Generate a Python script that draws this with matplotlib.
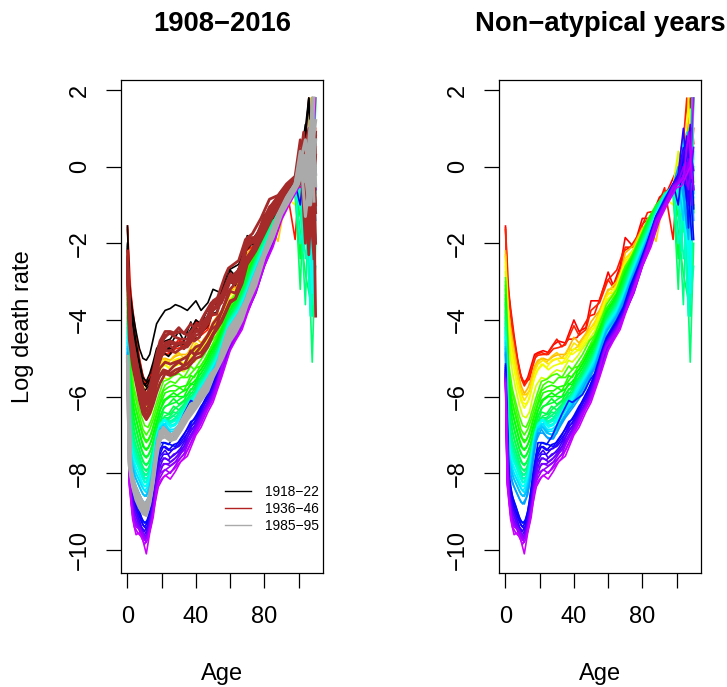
import matplotlib
matplotlib.use('Agg')
import matplotlib.pyplot as plt
from matplotlib.colors import hsv_to_rgb

plt.rcParams['font.family'] = ['Liberation Sans', 'DejaVu Sans']

W, H = 727, 687

ages = [0, 1, 3, 5, 7, 9, 11, 13, 15, 17, 19, 22, 25, 28, 31, 35, 40, 43, 47, 50, 55, 60, 63, 67, 70, 75, 80, 85, 90, 95, 100, 103, 106, 108, 110]
ages_b = [0, 2, 4, 6, 8, 10, 12, 14, 16, 18, 21, 24, 27, 30, 33, 37, 39, 42, 45, 49, 52, 57, 59, 65, 69, 73, 78, 83, 88, 93, 98, 101, 104, 107, 109]

# log death rates, one list per year
y1908 = [-1.55,-2.9,-3.7,-4.4,-5.0,-5.45,-5.65,-5.5,-5.2,-4.9,-4.85,-4.8,-4.85,-4.65,-4.55,-4.6,-4.0,-4.3,-4.2,-3.5,-3.5,-2.75,-3.1,-2.6,-1.85,-2.1,-1.35,-1.35,-0.8,-0.6,-0.1,0.3,0.9,1.79,0.6]
y1911 = [-1.65,-3.0,-3.8,-4.5,-5.05,-5.5,-5.72,-5.58,-5.3,-5.0,-4.92,-4.9,-4.9,-4.75,-4.72,-4.65,-4.15,-4.4,-4.25,-3.75,-3.55,-2.95,-3.15,-2.7,-2.1,-2.1,-1.5,-1.3,-0.9,-0.75,-0.3,0.1,1.79,-0.3,1.0]
y1924 = [-2.2,-3.5,-4.2,-4.75,-5.3,-5.7,-5.92,-5.78,-5.55,-5.2,-5.05,-5.0,-5.05,-4.95,-4.9,-4.9,-4.45,-4.6,-4.35,-4.05,-3.75,-3.2,-3.2,-2.85,-2.25,-2.05,-1.6,-1.4,-0.95,-0.8,-0.5,0.5,-0.5,1.2,-1.0]
y1928 = [-2.35,-3.7,-4.4,-4.95,-5.5,-5.9,-6.1,-5.95,-5.7,-5.35,-5.15,-5.05,-5.15,-5.05,-5.0,-5.0,-4.6,-4.7,-4.45,-4.2,-3.85,-3.3,-3.3,-2.9,-2.4,-2.15,-1.65,-1.35,-1.0,-0.75,-0.6,-0.2,0.7,-1.0,1.79]
y1932 = [-2.6,-4.0,-4.7,-5.2,-5.75,-6.1,-6.3,-6.15,-5.85,-5.5,-5.3,-5.15,-5.3,-5.2,-5.15,-5.1,-4.75,-4.8,-4.55,-4.3,-3.95,-3.45,-3.4,-3.0,-2.5,-2.2,-1.7,-1.35,-1.0,-0.8,-0.55,0.0,-0.4,1.5,0.2]
y1948 = [-3.0,-5.0,-5.7,-6.1,-6.5,-6.85,-7.0,-6.85,-6.6,-6.3,-6.0,-5.7,-5.6,-5.65,-5.5,-5.5,-5.25,-5.2,-4.9,-4.6,-4.2,-3.65,-3.55,-3.1,-2.6,-2.25,-1.8,-1.3,-1.0,-0.8,-0.6,-0.3,-1.5,0.8,-0.4]
y1951 = [-3.2,-5.3,-5.95,-6.35,-6.7,-7.05,-7.2,-7.05,-6.8,-6.5,-6.2,-5.9,-5.85,-5.85,-5.75,-5.7,-5.4,-5.3,-5.0,-4.7,-4.25,-3.75,-3.6,-3.2,-2.7,-2.3,-1.85,-1.35,-1.0,-0.8,-0.6,-0.1,0.4,-1.6,1.79]
y1954 = [-3.45,-5.6,-6.2,-6.6,-6.95,-7.3,-7.4,-7.25,-7.0,-6.7,-6.35,-6.1,-6.0,-6.0,-5.9,-5.8,-5.55,-5.4,-5.1,-4.8,-4.35,-3.85,-3.7,-3.25,-2.8,-2.35,-1.9,-1.4,-0.95,-0.75,-0.5,-0.6,-2.0,0.3,-1.2]
y1957 = [-3.6,-5.8,-6.45,-6.85,-7.2,-7.5,-7.6,-7.45,-7.2,-6.85,-6.5,-6.25,-6.2,-6.15,-6.05,-5.95,-5.65,-5.5,-5.2,-4.9,-4.4,-3.9,-3.75,-3.35,-2.85,-2.4,-1.9,-1.4,-0.95,-0.7,-0.4,-1.0,0.6,-2.6,0.0]
y1960 = [-3.8,-6.0,-6.7,-7.1,-7.4,-7.7,-7.8,-7.65,-7.35,-7.0,-6.65,-6.5,-6.45,-6.3,-6.2,-6.05,-5.75,-5.6,-5.3,-5.0,-4.5,-3.95,-3.8,-3.4,-2.95,-2.45,-1.95,-1.45,-1.0,-0.7,-0.5,-1.9,0.2,-3.0,-1.0]
y1963 = [-3.95,-6.3,-6.95,-7.3,-7.55,-7.85,-7.95,-7.8,-7.45,-7.05,-6.7,-6.6,-6.55,-6.45,-6.3,-6.1,-5.85,-5.65,-5.35,-5.05,-4.55,-4.0,-3.85,-3.45,-3.05,-2.45,-1.95,-1.45,-1.0,-0.65,-0.5,-0.6,-2.5,-5.1,-2.0]
y1966 = [-4.1,-6.5,-7.1,-7.45,-7.7,-7.95,-8.05,-7.9,-7.5,-7.05,-6.7,-6.6,-6.65,-6.55,-6.35,-6.15,-5.9,-5.7,-5.4,-5.1,-4.6,-4.05,-3.9,-3.5,-3.1,-2.5,-2.0,-1.5,-1.05,-0.7,-0.6,-1.6,-0.2,-3.9,-0.5]
y1969 = [-4.2,-6.7,-7.25,-7.6,-7.8,-8.05,-8.15,-8.0,-7.55,-7.0,-6.7,-6.6,-6.7,-6.6,-6.4,-6.2,-5.9,-5.75,-5.45,-5.15,-4.65,-4.05,-3.9,-3.55,-3.15,-2.6,-2.05,-1.55,-1.05,-0.7,-0.5,-2.2,0.9,-3.6,-2.6]
y1972 = [-4.35,-6.85,-7.4,-7.7,-7.9,-8.15,-8.25,-8.1,-7.6,-7.0,-6.7,-6.6,-6.75,-6.7,-6.5,-6.25,-5.95,-5.8,-5.5,-5.2,-4.7,-4.1,-3.95,-3.6,-3.2,-2.65,-2.1,-1.6,-1.1,-0.75,-0.45,-1.2,0.1,-2.9,1.79]
y1975 = [-4.45,-7.0,-7.55,-7.85,-8.05,-8.3,-8.35,-8.2,-7.7,-7.05,-6.75,-6.6,-6.8,-6.75,-6.55,-6.3,-6.0,-5.85,-5.55,-5.25,-4.8,-4.15,-4.0,-3.65,-3.25,-2.75,-2.15,-1.6,-1.15,-0.75,-0.5,-0.8,-1.9,-3.3,0.4]
y1978 = [-4.6,-7.2,-7.7,-8.0,-8.2,-8.4,-8.5,-8.3,-7.8,-7.1,-6.8,-6.7,-6.9,-6.9,-6.65,-6.35,-6.1,-5.9,-5.6,-5.3,-4.85,-4.25,-4.05,-3.7,-3.3,-2.8,-2.2,-1.7,-1.2,-0.75,-0.45,-0.3,0.6,-1.3,-0.8]
y1981 = [-4.75,-7.4,-7.85,-8.15,-8.35,-8.55,-8.6,-8.4,-7.9,-7.2,-6.85,-6.8,-6.95,-7.0,-6.75,-6.5,-6.15,-6.0,-5.7,-5.4,-4.9,-4.35,-4.1,-3.75,-3.35,-2.85,-2.25,-1.75,-1.2,-0.8,-0.45,-0.1,-1.1,1.0,-0.7]
y1984 = [-4.9,-7.6,-8.05,-8.35,-8.55,-8.75,-8.8,-8.55,-8.05,-7.35,-6.95,-6.95,-7.1,-7.1,-6.85,-6.55,-6.25,-6.05,-5.8,-5.45,-5.0,-4.4,-4.2,-3.8,-3.45,-2.95,-2.3,-1.8,-1.25,-0.8,-0.5,0.1,-1.6,0.5,-1.4]
y1997 = [-5.2,-7.8,-8.4,-8.75,-9.0,-9.25,-9.3,-9.0,-8.4,-7.75,-7.2,-7.2,-7.25,-7.3,-7.1,-6.85,-6.5,-6.25,-6.0,-5.65,-5.15,-4.6,-4.4,-4.05,-3.65,-3.0,-2.4,-1.85,-1.25,-0.85,-0.45,0.2,-0.9,0.9,-1.1]
y2000 = [-5.3,-7.95,-8.55,-8.9,-9.1,-9.35,-9.45,-9.1,-8.5,-7.85,-7.35,-7.3,-7.4,-7.35,-7.2,-6.95,-6.6,-6.35,-6.05,-5.7,-5.2,-4.65,-4.45,-4.1,-3.7,-3.1,-2.45,-1.9,-1.25,-0.85,-0.45,0.0,0.8,-0.5,-1.9]
y2003 = [-5.4,-8.05,-8.7,-9.0,-9.25,-9.5,-9.55,-9.2,-8.7,-8.0,-7.55,-7.4,-7.6,-7.5,-7.35,-7.05,-6.7,-6.45,-6.15,-5.8,-5.25,-4.7,-4.5,-4.15,-3.75,-3.15,-2.5,-1.9,-1.2,-0.8,-0.35,-0.2,0.2,1.1,-0.6]
y2006 = [-5.45,-8.15,-8.85,-9.1,-9.35,-9.6,-9.65,-9.3,-8.8,-8.15,-7.7,-7.6,-7.7,-7.6,-7.45,-7.15,-6.8,-6.55,-6.2,-5.9,-5.3,-4.75,-4.5,-4.15,-3.8,-3.25,-2.55,-1.95,-1.3,-0.85,-0.4,-0.3,-0.5,0.4,-0.1]
y2009 = [-5.5,-8.2,-8.95,-9.25,-9.4,-9.55,-9.7,-9.4,-8.9,-8.25,-7.85,-7.75,-7.8,-7.7,-7.5,-7.25,-6.85,-6.6,-6.25,-5.95,-5.4,-4.75,-4.5,-4.15,-3.8,-3.3,-2.6,-2.0,-1.35,-0.85,-0.45,-0.4,0.1,-0.3,0.5]
y2012 = [-5.55,-8.25,-9.1,-9.4,-9.45,-9.6,-9.8,-9.5,-9.0,-8.35,-8.0,-7.9,-8.0,-7.8,-7.6,-7.4,-6.95,-6.7,-6.3,-6.05,-5.45,-4.75,-4.5,-4.15,-3.8,-3.3,-2.6,-2.05,-1.35,-0.9,-0.5,-0.3,-0.1,0.2,-0.6]
y2016 = [-5.65,-8.3,-9.2,-9.6,-9.55,-9.75,-10.1,-9.55,-9.15,-8.45,-8.2,-8.05,-8.15,-7.95,-7.7,-7.55,-7.0,-6.8,-6.4,-6.15,-5.5,-4.8,-4.55,-4.25,-3.85,-3.25,-2.6,-2.1,-1.4,-0.95,-0.55,-0.5,-0.2,0.0,1.79]

# these ones are read at ages_b
y1910 = [-1.6,-3.4,-4.3,-4.85,-5.3,-5.6,-5.6,-5.55,-5.2,-4.9,-4.85,-4.9,-4.7,-4.5,-4.7,-4.5,-4.5,-4.45,-4.2,-3.9,-3.85,-3.2,-3.0,-2.7,-2.2,-2.1,-1.75,-1.2,-1.15,-0.55,-1.9,0.0,0.8,-1.85,1.79]
y1926 = [-2.3,-4.0,-4.8,-5.25,-5.65,-5.95,-5.95,-5.85,-5.45,-5.15,-5.0,-5.1,-4.95,-4.85,-5.0,-4.75,-4.8,-4.7,-4.5,-4.25,-4.1,-3.55,-3.3,-3.0,-2.55,-2.3,-1.85,-1.45,-1.95,-0.75,-0.55,-0.1,0.5,-0.6,-1.3]
y1930 = [-2.5,-4.3,-5.05,-5.5,-5.85,-6.15,-6.2,-6.05,-5.65,-5.35,-5.15,-5.25,-5.05,-5.0,-5.15,-4.85,-4.9,-4.8,-4.6,-4.35,-4.2,-3.65,-3.4,-3.1,-2.6,-2.35,-1.9,-1.4,-1.05,-0.8,-1.0,0.3,-0.6,1.79,-0.9]
y1934 = [-2.75,-4.65,-5.35,-5.8,-6.2,-6.5,-6.55,-6.4,-6.0,-5.7,-5.5,-5.55,-5.4,-5.3,-5.35,-5.05,-5.1,-4.95,-4.75,-4.5,-4.3,-3.8,-3.5,-3.2,-2.7,-2.4,-1.95,-1.5,-1.05,-0.75,-0.5,0.4,-1.1,0.7,1.0]
y1947 = [-2.9,-5.2,-5.8,-6.15,-6.5,-6.75,-6.8,-6.6,-6.3,-6.0,-5.6,-5.55,-5.45,-5.4,-5.5,-5.2,-5.3,-5.1,-4.9,-4.55,-4.4,-3.85,-3.6,-3.2,-2.7,-2.4,-1.9,-1.4,-1.05,-0.8,-0.65,-0.3,-1.7,1.0,-0.2]
y1950 = [-3.1,-5.5,-6.15,-6.5,-6.85,-7.1,-7.15,-6.95,-6.6,-6.3,-5.85,-5.75,-5.7,-5.75,-5.85,-5.45,-5.5,-5.25,-5.05,-4.7,-4.55,-3.95,-3.7,-3.3,-2.8,-2.45,-1.95,-1.4,-1.0,-0.75,-0.6,-0.6,0.5,-1.9,0.9]
y1953 = [-3.35,-5.8,-6.4,-6.75,-7.1,-7.35,-7.35,-7.15,-6.8,-6.5,-6.1,-6.0,-5.9,-6.0,-6.0,-5.65,-5.7,-5.35,-5.15,-4.8,-4.6,-4.05,-3.8,-3.35,-2.9,-2.5,-2.0,-1.45,-1.05,-0.75,-0.65,-1.3,-0.5,-2.3,0.2]
y1956 = [-3.55,-6.05,-6.65,-7.0,-7.35,-7.55,-7.55,-7.35,-7.0,-6.65,-6.3,-6.2,-6.05,-6.2,-6.1,-5.8,-5.8,-5.45,-5.25,-4.9,-4.7,-4.1,-3.85,-3.4,-2.95,-2.55,-2.0,-1.5,-1.05,-0.7,-0.75,-2.4,0.3,-1.9,-0.9]
y1959 = [-3.75,-6.35,-6.9,-7.25,-7.55,-7.75,-7.75,-7.55,-7.15,-6.8,-6.4,-6.45,-6.25,-6.35,-6.2,-5.9,-5.9,-5.55,-5.35,-5.0,-4.8,-4.2,-3.9,-3.5,-3.05,-2.6,-2.05,-1.55,-1.05,-0.7,-0.5,-1.7,-2.8,-3.5,0.3]
y1962 = [-3.9,-6.6,-7.15,-7.45,-7.75,-7.9,-7.9,-7.65,-7.2,-6.85,-6.55,-6.55,-6.4,-6.45,-6.25,-6.0,-5.95,-5.6,-5.4,-5.1,-4.85,-4.25,-4.0,-3.55,-3.15,-2.65,-2.1,-1.6,-1.1,-0.7,-0.55,-3.2,0.5,-3.9,-1.6]
y1965 = [-4.05,-6.8,-7.3,-7.6,-7.85,-8.05,-8.0,-7.7,-7.25,-6.85,-6.6,-6.6,-6.5,-6.55,-6.3,-6.05,-6.0,-5.65,-5.5,-5.15,-4.9,-4.3,-4.05,-3.6,-3.2,-2.7,-2.15,-1.65,-1.15,-0.7,-0.6,-1.0,-3.6,0.6,-2.9]
y1968 = [-4.2,-7.0,-7.45,-7.7,-7.95,-8.15,-8.1,-7.75,-7.25,-6.85,-6.6,-6.65,-6.6,-6.55,-6.35,-6.05,-6.0,-5.7,-5.5,-5.2,-4.95,-4.3,-4.05,-3.65,-3.25,-2.75,-2.2,-1.7,-1.2,-0.75,-0.65,-0.2,-2.4,-1.5,-3.2]
y1971 = [-4.3,-7.1,-7.6,-7.8,-8.05,-8.25,-8.15,-7.8,-7.25,-6.85,-6.6,-6.7,-6.65,-6.6,-6.4,-6.1,-6.05,-5.75,-5.55,-5.25,-5.0,-4.35,-4.1,-3.7,-3.3,-2.8,-2.25,-1.75,-1.2,-0.75,-0.55,-2.0,-1.1,-3.9,0.9]
y1974 = [-4.45,-7.3,-7.75,-7.95,-8.2,-8.35,-8.25,-7.9,-7.35,-6.9,-6.6,-6.75,-6.75,-6.65,-6.45,-6.15,-6.1,-5.8,-5.6,-5.3,-5.05,-4.4,-4.15,-3.75,-3.35,-2.85,-2.3,-1.8,-1.25,-0.75,-0.5,-1.1,-0.3,-2.3,-0.7]
y1977 = [-4.55,-7.45,-7.9,-8.1,-8.3,-8.45,-8.35,-8.05,-7.45,-6.95,-6.7,-6.85,-6.85,-6.75,-6.5,-6.2,-6.15,-5.85,-5.65,-5.35,-5.1,-4.45,-4.2,-3.8,-3.4,-2.9,-2.35,-1.8,-1.25,-0.8,-0.45,-0.6,0.7,-1.8,0.1]
y1980 = [-4.7,-7.6,-8.05,-8.25,-8.45,-8.6,-8.5,-8.15,-7.55,-7.05,-6.75,-6.95,-7.0,-6.85,-6.6,-6.3,-6.2,-5.95,-5.7,-5.4,-5.2,-4.5,-4.25,-3.85,-3.45,-2.95,-2.4,-1.85,-1.3,-0.8,-0.45,-0.4,-1.4,0.9,-1.2]
y1983 = [-4.85,-7.8,-8.25,-8.45,-8.65,-8.8,-8.65,-8.3,-7.7,-7.15,-6.85,-7.05,-7.1,-6.95,-6.65,-6.35,-6.25,-6.0,-5.8,-5.45,-5.25,-4.55,-4.3,-3.9,-3.5,-3.0,-2.45,-1.9,-1.3,-0.85,-0.5,0.0,-0.8,-1.9,1.79]
y1996 = [-5.15,-8.0,-8.6,-8.85,-9.15,-9.3,-9.2,-8.75,-8.05,-7.5,-7.2,-7.25,-7.05,-6.75,-6.45,-6.1,-6.15,-6.05,-5.95,-5.6,-5.4,-4.7,-4.45,-4.0,-3.65,-3.1,-2.55,-1.95,-1.3,-0.85,-0.45,-0.2,0.5,-1.6,1.0]
y1999 = [-5.25,-8.15,-8.7,-9.0,-9.25,-9.4,-9.25,-8.85,-8.2,-7.6,-7.3,-7.4,-7.25,-7.2,-7.0,-6.65,-6.6,-6.4,-6.1,-5.75,-5.45,-4.75,-4.5,-4.05,-3.7,-3.15,-2.6,-2.0,-1.3,-0.9,-0.45,-1.0,0.3,-0.7,-1.9]
y2002 = [-5.35,-8.3,-8.85,-9.1,-9.4,-9.5,-9.4,-9.0,-8.35,-7.75,-7.5,-7.5,-7.35,-7.3,-7.15,-6.75,-6.7,-6.5,-6.2,-5.85,-5.55,-4.8,-4.55,-4.1,-3.75,-3.2,-2.65,-2.0,-1.3,-0.9,-0.45,-0.2,1.0,-1.0,0.2]
y2005 = [-5.4,-8.4,-9.0,-9.25,-9.5,-9.6,-9.5,-9.1,-8.5,-7.95,-7.6,-7.65,-7.5,-7.45,-7.3,-6.85,-6.8,-6.55,-6.3,-5.95,-5.6,-4.85,-4.6,-4.15,-3.8,-3.3,-2.7,-2.05,-1.35,-0.95,-0.5,-0.3,0.4,0.6,-0.4]
y2008 = [-5.5,-8.5,-9.15,-9.35,-9.55,-9.7,-9.55,-9.15,-8.6,-8.1,-7.75,-7.75,-7.65,-7.5,-7.4,-7.0,-6.85,-6.6,-6.35,-6.0,-5.65,-4.85,-4.6,-4.2,-3.85,-3.35,-2.7,-2.1,-1.4,-0.95,-0.5,-0.35,-0.3,0.2,-1.0]
y2011 = [-5.55,-8.6,-9.25,-9.4,-9.6,-9.75,-9.6,-9.2,-8.7,-8.2,-7.95,-7.85,-7.75,-7.65,-7.5,-7.05,-6.95,-6.7,-6.4,-6.1,-5.7,-4.9,-4.65,-4.25,-3.9,-3.4,-2.75,-2.1,-1.4,-1.0,-0.5,-0.4,0.0,-0.6,0.4]
y2014 = [-5.6,-8.7,-9.4,-9.55,-9.65,-9.85,-9.7,-9.3,-8.8,-8.35,-8.1,-8.0,-7.9,-7.75,-7.6,-7.2,-7.0,-6.75,-6.45,-6.15,-5.8,-4.95,-4.7,-4.3,-3.9,-3.4,-2.8,-2.15,-1.45,-1.0,-0.55,-0.45,-0.3,0.9,-0.3]

# atypical years, left panel only
y1918 = [-1.55,-3.1,-3.8,-4.3,-4.75,-5.0,-5.05,-4.9,-4.5,-4.1,-3.95,-3.75,-3.7,-3.6,-3.65,-3.75,-3.5,-3.75,-3.55,-3.2,-3.3,-2.7,-2.85,-2.45,-1.8,-1.95,-1.25,-1.2,-0.8,-0.5,-0.1,0.6,1.79,0.5,-0.5]
y1919 = [-2.0,-3.2,-4.0,-4.6,-5.1,-5.5,-5.6,-5.4,-5.1,-4.75,-4.6,-4.55,-4.5,-4.3,-4.3,-4.4,-4.0,-4.1,-3.9,-3.5,-3.45,-2.9,-3.05,-2.6,-2.0,-2.05,-1.45,-1.35,-0.9,-0.6,-0.3,0.2,1.79,-1.0,0.6]
y1921 = [-2.1,-3.4,-4.1,-4.7,-5.2,-5.6,-5.75,-5.6,-5.35,-5.0,-4.85,-4.8,-4.75,-4.7,-4.65,-4.6,-4.2,-4.35,-4.15,-3.75,-3.55,-3.0,-3.1,-2.7,-2.05,-2.0,-1.5,-1.3,-0.9,-0.7,-0.4,0.4,-0.6,0.9,-0.2]
y1920 = [-2.05,-3.9,-4.65,-5.2,-5.55,-5.7,-5.6,-5.5,-5.0,-4.75,-4.65,-4.75,-4.5,-4.3,-4.55,-4.05,-4.3,-4.3,-3.9,-3.55,-3.6,-2.95,-2.7,-2.55,-2.1,-1.9,-1.6,-1.15,-1.1,-0.5,-0.35,0.1,1.1,-0.4,1.79]
y1922 = [-2.15,-4.0,-4.8,-5.3,-5.65,-5.85,-5.75,-5.65,-5.25,-4.95,-4.85,-4.95,-4.75,-4.6,-4.75,-4.35,-4.5,-4.45,-4.2,-3.85,-3.8,-3.2,-2.95,-2.7,-2.2,-2.0,-1.7,-1.25,-1.15,-0.7,-0.4,0.3,-0.5,0.8,-0.7]

y1936 = [-2.7,-4.1,-4.9,-5.4,-5.95,-6.3,-6.5,-6.35,-6.0,-5.65,-5.45,-5.35,-5.4,-5.3,-5.25,-5.15,-4.9,-4.85,-4.6,-4.35,-4.0,-3.5,-3.45,-3.05,-2.55,-2.2,-1.75,-1.3,-1.0,-0.7,-0.5,0.2,-1.2,0.9,-1.0]
y1938 = [-2.6,-4.0,-4.75,-5.3,-5.8,-6.15,-6.35,-6.2,-5.85,-5.5,-5.25,-5.1,-5.15,-5.1,-5.05,-4.95,-4.7,-4.65,-4.4,-4.1,-3.8,-3.25,-3.3,-2.85,-2.35,-2.1,-1.6,-1.2,-0.9,-0.6,-0.4,0.1,-2.3,-0.3,0.8]
y1940 = [-2.5,-3.9,-4.6,-5.1,-5.5,-5.85,-6.05,-5.8,-5.4,-5.0,-4.7,-4.4,-4.35,-4.45,-4.5,-4.5,-4.1,-4.2,-3.9,-3.5,-3.35,-2.8,-2.9,-2.45,-1.85,-1.85,-1.3,-0.95,-0.65,-0.4,-0.2,0.6,-0.6,1.4,-2.0]
y1941 = [-2.4,-3.95,-4.65,-5.2,-5.6,-5.95,-6.15,-5.9,-5.55,-5.15,-4.9,-4.65,-4.6,-4.65,-4.6,-4.6,-4.25,-4.25,-4.0,-3.6,-3.45,-2.9,-2.95,-2.55,-1.95,-1.9,-1.35,-1.0,-0.75,-0.45,-0.25,0.5,0.0,-1.5,0.9]
y1942 = [-2.5,-4.0,-4.7,-5.2,-5.65,-6.0,-6.2,-6.0,-5.65,-5.3,-5.0,-4.8,-4.8,-4.85,-4.75,-4.7,-4.4,-4.35,-4.1,-3.75,-3.55,-3.0,-3.05,-2.6,-2.0,-1.95,-1.4,-1.0,-0.7,-0.45,-0.3,0.3,1.0,-0.8,0.3]
y1944 = [-2.35,-3.85,-4.5,-5.0,-5.45,-5.8,-5.95,-5.75,-5.35,-4.9,-4.55,-4.3,-4.3,-4.35,-4.3,-4.4,-4.15,-4.1,-3.9,-3.55,-3.4,-2.85,-2.9,-2.5,-1.95,-1.9,-1.45,-1.05,-0.7,-0.45,-0.15,0.4,-1.8,0.2,-1.2]
y1945 = [-2.2,-3.9,-4.6,-5.15,-5.6,-6.0,-6.15,-5.95,-5.6,-5.2,-4.85,-4.6,-4.55,-4.6,-4.6,-4.6,-4.3,-4.3,-4.05,-3.7,-3.5,-2.95,-3.0,-2.6,-2.05,-1.95,-1.5,-1.1,-0.8,-0.5,-0.2,0.9,-0.9,1.79,-3.9]
y1946 = [-2.8,-4.5,-5.2,-5.65,-6.1,-6.45,-6.6,-6.45,-6.2,-5.9,-5.65,-5.4,-5.45,-5.4,-5.3,-5.25,-5.0,-4.95,-4.7,-4.4,-4.05,-3.55,-3.45,-3.0,-2.45,-2.15,-1.7,-1.2,-0.95,-0.7,-0.4,-0.1,-0.7,-1.8,0.5]
y1937 = [-2.65,-4.5,-5.2,-5.65,-6.05,-6.35,-6.4,-6.25,-5.85,-5.5,-5.3,-5.35,-5.2,-5.1,-5.2,-4.8,-4.9,-4.75,-4.55,-4.25,-4.15,-3.55,-3.25,-2.95,-2.45,-2.15,-1.75,-1.25,-1.1,-0.65,-0.55,0.0,-1.4,0.5,-0.6]
y1939 = [-2.5,-4.4,-5.05,-5.5,-5.9,-6.2,-6.2,-6.0,-5.55,-5.2,-4.8,-4.65,-4.75,-4.6,-4.75,-4.4,-4.55,-4.45,-4.15,-3.85,-3.85,-3.2,-2.95,-2.7,-2.15,-1.95,-1.6,-1.05,-0.85,-0.55,-0.35,0.45,-2.0,1.0,-1.5]
y1943 = [-2.4,-4.3,-4.95,-5.4,-5.8,-6.1,-6.05,-5.85,-5.35,-5.0,-4.5,-4.35,-4.35,-4.2,-4.35,-4.1,-4.2,-4.1,-3.85,-3.55,-3.5,-2.85,-2.65,-2.45,-1.9,-1.75,-1.35,-0.85,-0.75,-0.45,-0.25,0.7,0.2,-1.1,-2.4]

y1985 = [-4.95,-7.65,-8.1,-8.4,-8.6,-8.75,-8.8,-8.6,-8.1,-7.4,-7.0,-6.95,-7.1,-7.1,-6.85,-6.55,-6.2,-6.05,-5.75,-5.45,-5.0,-4.4,-4.2,-3.85,-3.45,-2.95,-2.3,-1.8,-1.2,-0.8,-0.4,0.2,-1.0,0.9,-0.2]
y1988 = [-5.0,-7.7,-8.2,-8.5,-8.65,-8.85,-8.9,-8.65,-8.15,-7.35,-6.9,-6.85,-7.0,-7.0,-6.8,-6.5,-6.2,-6.0,-5.75,-5.45,-4.95,-4.45,-4.25,-3.9,-3.5,-2.95,-2.3,-1.8,-1.2,-0.75,-0.35,0.3,-0.2,1.79,-0.5]
y1991 = [-5.05,-7.75,-8.3,-8.6,-8.75,-8.95,-9.0,-8.75,-8.2,-7.45,-7.0,-6.95,-7.0,-6.95,-6.7,-6.45,-6.15,-5.95,-5.75,-5.45,-5.0,-4.5,-4.3,-3.95,-3.55,-3.05,-2.35,-1.85,-1.2,-0.8,-0.4,0.0,0.6,-0.6,0.7]
y1995 = [-5.1,-7.8,-8.35,-8.7,-8.9,-9.05,-9.1,-8.8,-8.25,-7.6,-7.1,-7.05,-7.15,-7.1,-6.9,-6.6,-6.3,-6.1,-5.85,-5.5,-5.05,-4.55,-4.35,-4.0,-3.6,-3.1,-2.35,-1.85,-1.25,-0.85,-0.45,0.1,-0.7,0.4,1.2]
y1986 = [-4.95,-7.9,-8.3,-8.5,-8.7,-8.85,-8.7,-8.3,-7.65,-7.1,-6.85,-7.05,-7.1,-6.9,-6.6,-6.3,-6.2,-5.95,-5.75,-5.4,-5.25,-4.5,-4.25,-3.85,-3.5,-3.0,-2.45,-1.85,-1.25,-0.8,-0.45,0.4,-1.3,-0.2,1.79]
y1989 = [-5.0,-8.0,-8.4,-8.6,-8.8,-8.95,-8.8,-8.4,-7.65,-7.1,-6.8,-7.0,-7.0,-6.8,-6.55,-6.2,-6.15,-5.9,-5.7,-5.4,-5.25,-4.55,-4.3,-3.9,-3.55,-3.05,-2.45,-1.85,-1.25,-0.8,-0.45,0.1,0.7,-1.0,0.0]
y1993 = [-5.1,-8.05,-8.5,-8.75,-8.95,-9.05,-8.95,-8.5,-7.8,-7.25,-6.95,-7.05,-6.95,-6.75,-6.5,-6.2,-6.2,-6.0,-5.8,-5.45,-5.3,-4.6,-4.35,-3.95,-3.6,-3.1,-2.5,-1.9,-1.3,-0.85,-0.45,0.2,-0.4,1.2,-0.9]

years_a = [1908, 1911, 1924, 1928, 1932, 1948, 1951, 1954, 1957, 1960, 1963, 1966, 1969, 1972, 1975, 1978, 1981, 1984, 1997, 2000, 2003, 2006, 2009, 2012, 2016]
rows_a = [y1908, y1911, y1924, y1928, y1932, y1948, y1951, y1954, y1957, y1960, y1963, y1966, y1969, y1972, y1975, y1978, y1981, y1984, y1997, y2000, y2003, y2006, y2009, y2012, y2016]
years_b = [1910, 1926, 1930, 1934, 1947, 1950, 1953, 1956, 1959, 1962, 1965, 1968, 1971, 1974, 1977, 1980, 1983, 1996, 1999, 2002, 2005, 2008, 2011, 2014]
rows_b = [y1910, y1926, y1930, y1934, y1947, y1950, y1953, y1956, y1959, y1962, y1965, y1968, y1971, y1974, y1977, y1980, y1983, y1996, y1999, y2002, y2005, y2008, y2011, y2014]

war1_a = [y1921, y1919, y1918]
war1_b = [y1920, y1922]
war2_a = [y1936, y1938, y1940, y1941, y1942, y1944, y1945, y1946]
war2_b = [y1937, y1939, y1943]
late_a = [y1985, y1988, y1991, y1995]
late_b = [y1986, y1989, y1993]

legend_labels = ['1918\u221222', '1936\u221246', '1985\u221295']
legend_colors = ['black', '#b22222', '#aaaaaa']
xticks = [0, 20, 40, 60, 80, 100]
xticklabels = ['0', '', '40', '', '80', '']
yticks = [-10, -8, -6, -4, -2, 0, 2]
yticklabels = ['\u221210', '\u22128', '\u22126', '\u22124', '\u22122', '0', '2']


def year_colour(year):
    # red in 1908 round to purple in 2016
    return hsv_to_rgb((0.8 * (year - 1908) / 108, 1, 1))


def make_axes(fig, left_px, title):
    ax = fig.add_axes([left_px / W, 1 - 573 / H, 202 / W, 493 / H])
    ax.set_xlim(-3.8, 114.3)
    ax.set_ylim(-10.6, 2.26)
    ax.set_xticks(xticks)
    ax.set_xticklabels(xticklabels)
    ax.set_yticks(yticks)
    ax.set_yticklabels(yticklabels, rotation=90, va='center')
    ax.tick_params(axis='x', length=10.5, width=0.9, labelsize=17, pad=13.5)
    ax.tick_params(axis='y', length=10.5, width=0.9, labelsize=17, pad=11)
    for s in ax.spines.values():
        s.set_linewidth(0.9)
    fig.text((left_px + 101) / W, 1 - 24 / H, title, fontsize=19.7, fontweight='bold', ha='center', va='center')
    fig.text((left_px + 101) / W, 1 - 674 / H, 'Age', fontsize=17, ha='center', va='center')
    # all the years in time order so the later colours sit on top
    curves = [(y, ages, r) for y, r in zip(years_a, rows_a)] + [(y, ages_b, r) for y, r in zip(years_b, rows_b)]
    curves.sort(key=lambda c: c[0])
    for year, x, row in curves:
        ax.plot(x, row, color=year_colour(year), lw=1.2)
    return ax


fig = plt.figure(figsize=(W / 100, H / 100), dpi=100)

ax1 = make_axes(fig, 121, '1908\u22122016')
# black first, the brown ones cover most of it like in the original
for row in war1_a:
    ax1.plot(ages, row, color='black', lw=1.2)
for row in war1_b:
    ax1.plot(ages_b, row, color='black', lw=1.2)
for row in war2_a:
    ax1.plot(ages, row, color='#a52a2a', lw=2)
for row in war2_b:
    ax1.plot(ages_b, row, color='#a52a2a', lw=2)
for row in late_a:
    ax1.plot(ages, row, color='#aaaaaa', lw=2.2)
for row in late_b:
    ax1.plot(ages_b, row, color='#aaaaaa', lw=2.2)

for lab, col in zip(legend_labels, legend_colors):
    ax1.plot([], [], color=col, lw=1, label=lab)
ax1.legend(loc='lower right', bbox_to_anchor=(0.978, 0.081), frameon=False, fontsize=9.9, borderpad=0, borderaxespad=0,
           handlelength=1.96, handletextpad=0.95, labelspacing=0.22)

ax2 = make_axes(fig, 499, 'Non\u2212atypical years')

fig.text(23 / W, 1 - 327 / H, 'Log death rate', fontsize=17, rotation=90, ha='center', va='center')

fig.savefig('out.png', dpi=100)
